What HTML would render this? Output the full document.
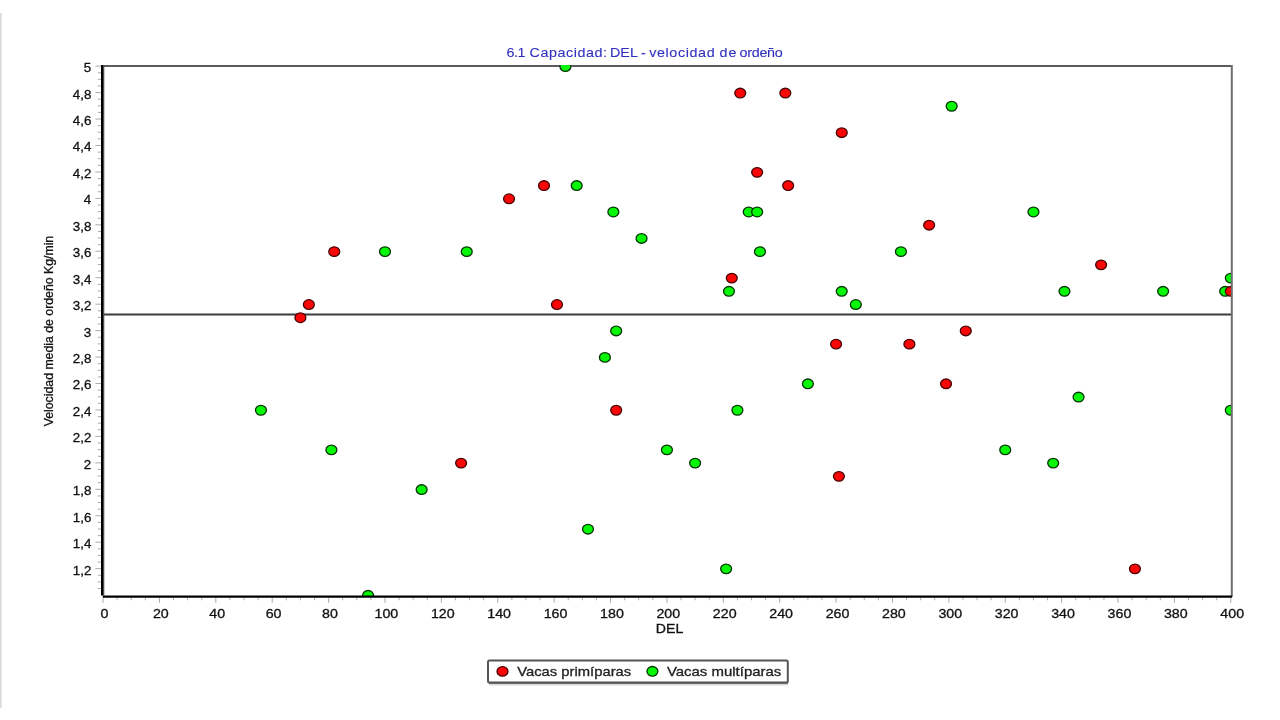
<!DOCTYPE html>
<html><head><meta charset="utf-8"><title>6.1 Capacidad: DEL - velocidad de ordeño</title>
<style>
html,body{margin:0;padding:0;background:#fff;}
body{width:1280px;height:720px;overflow:hidden;}
svg{display:block;}
text{font-family:'Liberation Sans', Arial, sans-serif;stroke-width:0.3px;}
</style></head>
<body>
<svg width="1280" height="720" viewBox="0 0 1280 720">
<rect width="1280" height="720" fill="#fff"/>
<rect x="0" y="13" width="1.6" height="695" fill="#d9d9d9"/>
<text transform="scale(1.12 1)" y="56.9" font-size="12.8" fill="#3030c0" stroke="#3030c0" style="stroke-width:0.1px"><tspan x="452.30" textLength="16.99" lengthAdjust="spacing">6.1</tspan> <tspan x="472.74" textLength="69.32" lengthAdjust="spacing">Capacidad:</tspan> <tspan x="544.57" textLength="25.05" lengthAdjust="spacing">DEL</tspan> <tspan x="572.29">-</tspan> <tspan x="579.60" textLength="58.46" lengthAdjust="spacing">velocidad</tspan> <tspan x="642.41" textLength="15.21" lengthAdjust="spacing">de</tspan> <tspan x="660.27" textLength="38.66" lengthAdjust="spacing">ordeño</tspan></text>
<defs><clipPath id="pc"><rect x="103" y="65" width="1128" height="531"/></clipPath></defs>
<line x1="97.8" y1="588.50" x2="101.5" y2="588.50" stroke="#ababab" stroke-width="1"/>
<line x1="97.8" y1="581.89" x2="101.5" y2="581.89" stroke="#ababab" stroke-width="1"/>
<line x1="97.8" y1="575.27" x2="101.5" y2="575.27" stroke="#ababab" stroke-width="1"/>
<line x1="95.4" y1="568.66" x2="101.5" y2="568.66" stroke="#ababab" stroke-width="1"/>
<line x1="97.8" y1="562.05" x2="101.5" y2="562.05" stroke="#ababab" stroke-width="1"/>
<line x1="97.8" y1="555.44" x2="101.5" y2="555.44" stroke="#ababab" stroke-width="1"/>
<line x1="97.8" y1="548.83" x2="101.5" y2="548.83" stroke="#ababab" stroke-width="1"/>
<line x1="95.4" y1="542.21" x2="101.5" y2="542.21" stroke="#ababab" stroke-width="1"/>
<line x1="97.8" y1="535.60" x2="101.5" y2="535.60" stroke="#ababab" stroke-width="1"/>
<line x1="97.8" y1="528.99" x2="101.5" y2="528.99" stroke="#ababab" stroke-width="1"/>
<line x1="97.8" y1="522.38" x2="101.5" y2="522.38" stroke="#ababab" stroke-width="1"/>
<line x1="95.4" y1="515.77" x2="101.5" y2="515.77" stroke="#ababab" stroke-width="1"/>
<line x1="97.8" y1="509.15" x2="101.5" y2="509.15" stroke="#ababab" stroke-width="1"/>
<line x1="97.8" y1="502.54" x2="101.5" y2="502.54" stroke="#ababab" stroke-width="1"/>
<line x1="97.8" y1="495.93" x2="101.5" y2="495.93" stroke="#ababab" stroke-width="1"/>
<line x1="95.4" y1="489.32" x2="101.5" y2="489.32" stroke="#ababab" stroke-width="1"/>
<line x1="97.8" y1="482.71" x2="101.5" y2="482.71" stroke="#ababab" stroke-width="1"/>
<line x1="97.8" y1="476.09" x2="101.5" y2="476.09" stroke="#ababab" stroke-width="1"/>
<line x1="97.8" y1="469.48" x2="101.5" y2="469.48" stroke="#ababab" stroke-width="1"/>
<line x1="95.4" y1="462.87" x2="101.5" y2="462.87" stroke="#ababab" stroke-width="1"/>
<line x1="97.8" y1="456.26" x2="101.5" y2="456.26" stroke="#ababab" stroke-width="1"/>
<line x1="97.8" y1="449.65" x2="101.5" y2="449.65" stroke="#ababab" stroke-width="1"/>
<line x1="97.8" y1="443.03" x2="101.5" y2="443.03" stroke="#ababab" stroke-width="1"/>
<line x1="95.4" y1="436.42" x2="101.5" y2="436.42" stroke="#ababab" stroke-width="1"/>
<line x1="97.8" y1="429.81" x2="101.5" y2="429.81" stroke="#ababab" stroke-width="1"/>
<line x1="97.8" y1="423.20" x2="101.5" y2="423.20" stroke="#ababab" stroke-width="1"/>
<line x1="97.8" y1="416.59" x2="101.5" y2="416.59" stroke="#ababab" stroke-width="1"/>
<line x1="95.4" y1="409.97" x2="101.5" y2="409.97" stroke="#ababab" stroke-width="1"/>
<line x1="97.8" y1="403.36" x2="101.5" y2="403.36" stroke="#ababab" stroke-width="1"/>
<line x1="97.8" y1="396.75" x2="101.5" y2="396.75" stroke="#ababab" stroke-width="1"/>
<line x1="97.8" y1="390.14" x2="101.5" y2="390.14" stroke="#ababab" stroke-width="1"/>
<line x1="95.4" y1="383.53" x2="101.5" y2="383.53" stroke="#ababab" stroke-width="1"/>
<line x1="97.8" y1="376.91" x2="101.5" y2="376.91" stroke="#ababab" stroke-width="1"/>
<line x1="97.8" y1="370.30" x2="101.5" y2="370.30" stroke="#ababab" stroke-width="1"/>
<line x1="97.8" y1="363.69" x2="101.5" y2="363.69" stroke="#ababab" stroke-width="1"/>
<line x1="95.4" y1="357.08" x2="101.5" y2="357.08" stroke="#ababab" stroke-width="1"/>
<line x1="97.8" y1="350.47" x2="101.5" y2="350.47" stroke="#ababab" stroke-width="1"/>
<line x1="97.8" y1="343.85" x2="101.5" y2="343.85" stroke="#ababab" stroke-width="1"/>
<line x1="97.8" y1="337.24" x2="101.5" y2="337.24" stroke="#ababab" stroke-width="1"/>
<line x1="95.4" y1="330.63" x2="101.5" y2="330.63" stroke="#ababab" stroke-width="1"/>
<line x1="97.8" y1="324.02" x2="101.5" y2="324.02" stroke="#ababab" stroke-width="1"/>
<line x1="97.8" y1="317.41" x2="101.5" y2="317.41" stroke="#ababab" stroke-width="1"/>
<line x1="97.8" y1="310.79" x2="101.5" y2="310.79" stroke="#ababab" stroke-width="1"/>
<line x1="95.4" y1="304.18" x2="101.5" y2="304.18" stroke="#ababab" stroke-width="1"/>
<line x1="97.8" y1="297.57" x2="101.5" y2="297.57" stroke="#ababab" stroke-width="1"/>
<line x1="97.8" y1="290.96" x2="101.5" y2="290.96" stroke="#ababab" stroke-width="1"/>
<line x1="97.8" y1="284.35" x2="101.5" y2="284.35" stroke="#ababab" stroke-width="1"/>
<line x1="95.4" y1="277.73" x2="101.5" y2="277.73" stroke="#ababab" stroke-width="1"/>
<line x1="97.8" y1="271.12" x2="101.5" y2="271.12" stroke="#ababab" stroke-width="1"/>
<line x1="97.8" y1="264.51" x2="101.5" y2="264.51" stroke="#ababab" stroke-width="1"/>
<line x1="97.8" y1="257.90" x2="101.5" y2="257.90" stroke="#ababab" stroke-width="1"/>
<line x1="95.4" y1="251.29" x2="101.5" y2="251.29" stroke="#ababab" stroke-width="1"/>
<line x1="97.8" y1="244.67" x2="101.5" y2="244.67" stroke="#ababab" stroke-width="1"/>
<line x1="97.8" y1="238.06" x2="101.5" y2="238.06" stroke="#ababab" stroke-width="1"/>
<line x1="97.8" y1="231.45" x2="101.5" y2="231.45" stroke="#ababab" stroke-width="1"/>
<line x1="95.4" y1="224.84" x2="101.5" y2="224.84" stroke="#ababab" stroke-width="1"/>
<line x1="97.8" y1="218.23" x2="101.5" y2="218.23" stroke="#ababab" stroke-width="1"/>
<line x1="97.8" y1="211.61" x2="101.5" y2="211.61" stroke="#ababab" stroke-width="1"/>
<line x1="97.8" y1="205.00" x2="101.5" y2="205.00" stroke="#ababab" stroke-width="1"/>
<line x1="95.4" y1="198.39" x2="101.5" y2="198.39" stroke="#ababab" stroke-width="1"/>
<line x1="97.8" y1="191.78" x2="101.5" y2="191.78" stroke="#ababab" stroke-width="1"/>
<line x1="97.8" y1="185.17" x2="101.5" y2="185.17" stroke="#ababab" stroke-width="1"/>
<line x1="97.8" y1="178.55" x2="101.5" y2="178.55" stroke="#ababab" stroke-width="1"/>
<line x1="95.4" y1="171.94" x2="101.5" y2="171.94" stroke="#ababab" stroke-width="1"/>
<line x1="97.8" y1="165.33" x2="101.5" y2="165.33" stroke="#ababab" stroke-width="1"/>
<line x1="97.8" y1="158.72" x2="101.5" y2="158.72" stroke="#ababab" stroke-width="1"/>
<line x1="97.8" y1="152.11" x2="101.5" y2="152.11" stroke="#ababab" stroke-width="1"/>
<line x1="95.4" y1="145.49" x2="101.5" y2="145.49" stroke="#ababab" stroke-width="1"/>
<line x1="97.8" y1="138.88" x2="101.5" y2="138.88" stroke="#ababab" stroke-width="1"/>
<line x1="97.8" y1="132.27" x2="101.5" y2="132.27" stroke="#ababab" stroke-width="1"/>
<line x1="97.8" y1="125.66" x2="101.5" y2="125.66" stroke="#ababab" stroke-width="1"/>
<line x1="95.4" y1="119.05" x2="101.5" y2="119.05" stroke="#ababab" stroke-width="1"/>
<line x1="97.8" y1="112.43" x2="101.5" y2="112.43" stroke="#ababab" stroke-width="1"/>
<line x1="97.8" y1="105.82" x2="101.5" y2="105.82" stroke="#ababab" stroke-width="1"/>
<line x1="97.8" y1="99.21" x2="101.5" y2="99.21" stroke="#ababab" stroke-width="1"/>
<line x1="95.4" y1="92.60" x2="101.5" y2="92.60" stroke="#ababab" stroke-width="1"/>
<line x1="97.8" y1="85.99" x2="101.5" y2="85.99" stroke="#ababab" stroke-width="1"/>
<line x1="97.8" y1="79.37" x2="101.5" y2="79.37" stroke="#ababab" stroke-width="1"/>
<line x1="97.8" y1="72.76" x2="101.5" y2="72.76" stroke="#ababab" stroke-width="1"/>
<line x1="95.4" y1="66.15" x2="101.5" y2="66.15" stroke="#ababab" stroke-width="1"/>
<line x1="103.05" y1="597.5" x2="103.05" y2="602.8" stroke="#ababab" stroke-width="1"/>
<line x1="117.15" y1="597.5" x2="117.15" y2="600.3" stroke="#ababab" stroke-width="1"/>
<line x1="131.24" y1="597.5" x2="131.24" y2="600.3" stroke="#ababab" stroke-width="1"/>
<line x1="145.34" y1="597.5" x2="145.34" y2="600.3" stroke="#ababab" stroke-width="1"/>
<line x1="159.44" y1="597.5" x2="159.44" y2="602.8" stroke="#ababab" stroke-width="1"/>
<line x1="173.53" y1="597.5" x2="173.53" y2="600.3" stroke="#ababab" stroke-width="1"/>
<line x1="187.63" y1="597.5" x2="187.63" y2="600.3" stroke="#ababab" stroke-width="1"/>
<line x1="201.73" y1="597.5" x2="201.73" y2="600.3" stroke="#ababab" stroke-width="1"/>
<line x1="215.82" y1="597.5" x2="215.82" y2="602.8" stroke="#ababab" stroke-width="1"/>
<line x1="229.92" y1="597.5" x2="229.92" y2="600.3" stroke="#ababab" stroke-width="1"/>
<line x1="244.02" y1="597.5" x2="244.02" y2="600.3" stroke="#ababab" stroke-width="1"/>
<line x1="258.12" y1="597.5" x2="258.12" y2="600.3" stroke="#ababab" stroke-width="1"/>
<line x1="272.21" y1="597.5" x2="272.21" y2="602.8" stroke="#ababab" stroke-width="1"/>
<line x1="286.31" y1="597.5" x2="286.31" y2="600.3" stroke="#ababab" stroke-width="1"/>
<line x1="300.41" y1="597.5" x2="300.41" y2="600.3" stroke="#ababab" stroke-width="1"/>
<line x1="314.50" y1="597.5" x2="314.50" y2="600.3" stroke="#ababab" stroke-width="1"/>
<line x1="328.60" y1="597.5" x2="328.60" y2="602.8" stroke="#ababab" stroke-width="1"/>
<line x1="342.70" y1="597.5" x2="342.70" y2="600.3" stroke="#ababab" stroke-width="1"/>
<line x1="356.79" y1="597.5" x2="356.79" y2="600.3" stroke="#ababab" stroke-width="1"/>
<line x1="370.89" y1="597.5" x2="370.89" y2="600.3" stroke="#ababab" stroke-width="1"/>
<line x1="384.99" y1="597.5" x2="384.99" y2="602.8" stroke="#ababab" stroke-width="1"/>
<line x1="399.08" y1="597.5" x2="399.08" y2="600.3" stroke="#ababab" stroke-width="1"/>
<line x1="413.18" y1="597.5" x2="413.18" y2="600.3" stroke="#ababab" stroke-width="1"/>
<line x1="427.28" y1="597.5" x2="427.28" y2="600.3" stroke="#ababab" stroke-width="1"/>
<line x1="441.38" y1="597.5" x2="441.38" y2="602.8" stroke="#ababab" stroke-width="1"/>
<line x1="455.47" y1="597.5" x2="455.47" y2="600.3" stroke="#ababab" stroke-width="1"/>
<line x1="469.57" y1="597.5" x2="469.57" y2="600.3" stroke="#ababab" stroke-width="1"/>
<line x1="483.67" y1="597.5" x2="483.67" y2="600.3" stroke="#ababab" stroke-width="1"/>
<line x1="497.76" y1="597.5" x2="497.76" y2="602.8" stroke="#ababab" stroke-width="1"/>
<line x1="511.86" y1="597.5" x2="511.86" y2="600.3" stroke="#ababab" stroke-width="1"/>
<line x1="525.96" y1="597.5" x2="525.96" y2="600.3" stroke="#ababab" stroke-width="1"/>
<line x1="540.05" y1="597.5" x2="540.05" y2="600.3" stroke="#ababab" stroke-width="1"/>
<line x1="554.15" y1="597.5" x2="554.15" y2="602.8" stroke="#ababab" stroke-width="1"/>
<line x1="568.25" y1="597.5" x2="568.25" y2="600.3" stroke="#ababab" stroke-width="1"/>
<line x1="582.34" y1="597.5" x2="582.34" y2="600.3" stroke="#ababab" stroke-width="1"/>
<line x1="596.44" y1="597.5" x2="596.44" y2="600.3" stroke="#ababab" stroke-width="1"/>
<line x1="610.54" y1="597.5" x2="610.54" y2="602.8" stroke="#ababab" stroke-width="1"/>
<line x1="624.63" y1="597.5" x2="624.63" y2="600.3" stroke="#ababab" stroke-width="1"/>
<line x1="638.73" y1="597.5" x2="638.73" y2="600.3" stroke="#ababab" stroke-width="1"/>
<line x1="652.83" y1="597.5" x2="652.83" y2="600.3" stroke="#ababab" stroke-width="1"/>
<line x1="666.92" y1="597.5" x2="666.92" y2="602.8" stroke="#ababab" stroke-width="1"/>
<line x1="681.02" y1="597.5" x2="681.02" y2="600.3" stroke="#ababab" stroke-width="1"/>
<line x1="695.12" y1="597.5" x2="695.12" y2="600.3" stroke="#ababab" stroke-width="1"/>
<line x1="709.22" y1="597.5" x2="709.22" y2="600.3" stroke="#ababab" stroke-width="1"/>
<line x1="723.31" y1="597.5" x2="723.31" y2="602.8" stroke="#ababab" stroke-width="1"/>
<line x1="737.41" y1="597.5" x2="737.41" y2="600.3" stroke="#ababab" stroke-width="1"/>
<line x1="751.51" y1="597.5" x2="751.51" y2="600.3" stroke="#ababab" stroke-width="1"/>
<line x1="765.60" y1="597.5" x2="765.60" y2="600.3" stroke="#ababab" stroke-width="1"/>
<line x1="779.70" y1="597.5" x2="779.70" y2="602.8" stroke="#ababab" stroke-width="1"/>
<line x1="793.80" y1="597.5" x2="793.80" y2="600.3" stroke="#ababab" stroke-width="1"/>
<line x1="807.89" y1="597.5" x2="807.89" y2="600.3" stroke="#ababab" stroke-width="1"/>
<line x1="821.99" y1="597.5" x2="821.99" y2="600.3" stroke="#ababab" stroke-width="1"/>
<line x1="836.09" y1="597.5" x2="836.09" y2="602.8" stroke="#ababab" stroke-width="1"/>
<line x1="850.18" y1="597.5" x2="850.18" y2="600.3" stroke="#ababab" stroke-width="1"/>
<line x1="864.28" y1="597.5" x2="864.28" y2="600.3" stroke="#ababab" stroke-width="1"/>
<line x1="878.38" y1="597.5" x2="878.38" y2="600.3" stroke="#ababab" stroke-width="1"/>
<line x1="892.47" y1="597.5" x2="892.47" y2="602.8" stroke="#ababab" stroke-width="1"/>
<line x1="906.57" y1="597.5" x2="906.57" y2="600.3" stroke="#ababab" stroke-width="1"/>
<line x1="920.67" y1="597.5" x2="920.67" y2="600.3" stroke="#ababab" stroke-width="1"/>
<line x1="934.77" y1="597.5" x2="934.77" y2="600.3" stroke="#ababab" stroke-width="1"/>
<line x1="948.86" y1="597.5" x2="948.86" y2="602.8" stroke="#ababab" stroke-width="1"/>
<line x1="962.96" y1="597.5" x2="962.96" y2="600.3" stroke="#ababab" stroke-width="1"/>
<line x1="977.06" y1="597.5" x2="977.06" y2="600.3" stroke="#ababab" stroke-width="1"/>
<line x1="991.15" y1="597.5" x2="991.15" y2="600.3" stroke="#ababab" stroke-width="1"/>
<line x1="1005.25" y1="597.5" x2="1005.25" y2="602.8" stroke="#ababab" stroke-width="1"/>
<line x1="1019.35" y1="597.5" x2="1019.35" y2="600.3" stroke="#ababab" stroke-width="1"/>
<line x1="1033.44" y1="597.5" x2="1033.44" y2="600.3" stroke="#ababab" stroke-width="1"/>
<line x1="1047.54" y1="597.5" x2="1047.54" y2="600.3" stroke="#ababab" stroke-width="1"/>
<line x1="1061.64" y1="597.5" x2="1061.64" y2="602.8" stroke="#ababab" stroke-width="1"/>
<line x1="1075.73" y1="597.5" x2="1075.73" y2="600.3" stroke="#ababab" stroke-width="1"/>
<line x1="1089.83" y1="597.5" x2="1089.83" y2="600.3" stroke="#ababab" stroke-width="1"/>
<line x1="1103.93" y1="597.5" x2="1103.93" y2="600.3" stroke="#ababab" stroke-width="1"/>
<line x1="1118.03" y1="597.5" x2="1118.03" y2="602.8" stroke="#ababab" stroke-width="1"/>
<line x1="1132.12" y1="597.5" x2="1132.12" y2="600.3" stroke="#ababab" stroke-width="1"/>
<line x1="1146.22" y1="597.5" x2="1146.22" y2="600.3" stroke="#ababab" stroke-width="1"/>
<line x1="1160.32" y1="597.5" x2="1160.32" y2="600.3" stroke="#ababab" stroke-width="1"/>
<line x1="1174.41" y1="597.5" x2="1174.41" y2="602.8" stroke="#ababab" stroke-width="1"/>
<line x1="1188.51" y1="597.5" x2="1188.51" y2="600.3" stroke="#ababab" stroke-width="1"/>
<line x1="1202.61" y1="597.5" x2="1202.61" y2="600.3" stroke="#ababab" stroke-width="1"/>
<line x1="1216.70" y1="597.5" x2="1216.70" y2="600.3" stroke="#ababab" stroke-width="1"/>
<line x1="1230.80" y1="597.5" x2="1230.80" y2="602.8" stroke="#ababab" stroke-width="1"/>
<text transform="translate(91.3 574.56) scale(1.06 1)" font-size="12.6" text-anchor="end" fill="#111" stroke="#111">1,2</text>
<text transform="translate(91.3 548.11) scale(1.06 1)" font-size="12.6" text-anchor="end" fill="#111" stroke="#111">1,4</text>
<text transform="translate(91.3 521.67) scale(1.06 1)" font-size="12.6" text-anchor="end" fill="#111" stroke="#111">1,6</text>
<text transform="translate(91.3 495.22) scale(1.06 1)" font-size="12.6" text-anchor="end" fill="#111" stroke="#111">1,8</text>
<text transform="translate(91.3 468.77) scale(1.06 1)" font-size="12.6" text-anchor="end" fill="#111" stroke="#111">2</text>
<text transform="translate(91.3 442.32) scale(1.06 1)" font-size="12.6" text-anchor="end" fill="#111" stroke="#111">2,2</text>
<text transform="translate(91.3 415.87) scale(1.06 1)" font-size="12.6" text-anchor="end" fill="#111" stroke="#111">2,4</text>
<text transform="translate(91.3 389.43) scale(1.06 1)" font-size="12.6" text-anchor="end" fill="#111" stroke="#111">2,6</text>
<text transform="translate(91.3 362.98) scale(1.06 1)" font-size="12.6" text-anchor="end" fill="#111" stroke="#111">2,8</text>
<text transform="translate(91.3 336.53) scale(1.06 1)" font-size="12.6" text-anchor="end" fill="#111" stroke="#111">3</text>
<text transform="translate(91.3 310.08) scale(1.06 1)" font-size="12.6" text-anchor="end" fill="#111" stroke="#111">3,2</text>
<text transform="translate(91.3 283.63) scale(1.06 1)" font-size="12.6" text-anchor="end" fill="#111" stroke="#111">3,4</text>
<text transform="translate(91.3 257.19) scale(1.06 1)" font-size="12.6" text-anchor="end" fill="#111" stroke="#111">3,6</text>
<text transform="translate(91.3 230.74) scale(1.06 1)" font-size="12.6" text-anchor="end" fill="#111" stroke="#111">3,8</text>
<text transform="translate(91.3 204.29) scale(1.06 1)" font-size="12.6" text-anchor="end" fill="#111" stroke="#111">4</text>
<text transform="translate(91.3 177.84) scale(1.06 1)" font-size="12.6" text-anchor="end" fill="#111" stroke="#111">4,2</text>
<text transform="translate(91.3 151.39) scale(1.06 1)" font-size="12.6" text-anchor="end" fill="#111" stroke="#111">4,4</text>
<text transform="translate(91.3 124.95) scale(1.06 1)" font-size="12.6" text-anchor="end" fill="#111" stroke="#111">4,6</text>
<text transform="translate(91.3 98.50) scale(1.06 1)" font-size="12.6" text-anchor="end" fill="#111" stroke="#111">4,8</text>
<text transform="translate(91.3 72.05) scale(1.06 1)" font-size="12.6" text-anchor="end" fill="#111" stroke="#111">5</text>
<text transform="translate(104.45 617.6) scale(1.13 1)" font-size="12.6" text-anchor="middle" fill="#111" stroke="#111">0</text>
<text transform="translate(160.84 617.6) scale(1.13 1)" font-size="12.6" text-anchor="middle" fill="#111" stroke="#111">20</text>
<text transform="translate(217.22 617.6) scale(1.13 1)" font-size="12.6" text-anchor="middle" fill="#111" stroke="#111">40</text>
<text transform="translate(273.61 617.6) scale(1.13 1)" font-size="12.6" text-anchor="middle" fill="#111" stroke="#111">60</text>
<text transform="translate(330.00 617.6) scale(1.13 1)" font-size="12.6" text-anchor="middle" fill="#111" stroke="#111">80</text>
<text transform="translate(386.39 617.6) scale(1.13 1)" font-size="12.6" text-anchor="middle" fill="#111" stroke="#111">100</text>
<text transform="translate(442.77 617.6) scale(1.13 1)" font-size="12.6" text-anchor="middle" fill="#111" stroke="#111">120</text>
<text transform="translate(499.16 617.6) scale(1.13 1)" font-size="12.6" text-anchor="middle" fill="#111" stroke="#111">140</text>
<text transform="translate(555.55 617.6) scale(1.13 1)" font-size="12.6" text-anchor="middle" fill="#111" stroke="#111">160</text>
<text transform="translate(611.94 617.6) scale(1.13 1)" font-size="12.6" text-anchor="middle" fill="#111" stroke="#111">180</text>
<text transform="translate(668.32 617.6) scale(1.13 1)" font-size="12.6" text-anchor="middle" fill="#111" stroke="#111">200</text>
<text transform="translate(724.71 617.6) scale(1.13 1)" font-size="12.6" text-anchor="middle" fill="#111" stroke="#111">220</text>
<text transform="translate(781.10 617.6) scale(1.13 1)" font-size="12.6" text-anchor="middle" fill="#111" stroke="#111">240</text>
<text transform="translate(837.49 617.6) scale(1.13 1)" font-size="12.6" text-anchor="middle" fill="#111" stroke="#111">260</text>
<text transform="translate(893.87 617.6) scale(1.13 1)" font-size="12.6" text-anchor="middle" fill="#111" stroke="#111">280</text>
<text transform="translate(950.26 617.6) scale(1.13 1)" font-size="12.6" text-anchor="middle" fill="#111" stroke="#111">300</text>
<text transform="translate(1006.65 617.6) scale(1.13 1)" font-size="12.6" text-anchor="middle" fill="#111" stroke="#111">320</text>
<text transform="translate(1063.04 617.6) scale(1.13 1)" font-size="12.6" text-anchor="middle" fill="#111" stroke="#111">340</text>
<text transform="translate(1119.43 617.6) scale(1.13 1)" font-size="12.6" text-anchor="middle" fill="#111" stroke="#111">360</text>
<text transform="translate(1175.81 617.6) scale(1.13 1)" font-size="12.6" text-anchor="middle" fill="#111" stroke="#111">380</text>
<text transform="translate(1232.20 617.6) scale(1.13 1)" font-size="12.6" text-anchor="middle" fill="#111" stroke="#111">400</text>
<text transform="translate(655.8 633.0) scale(1.12 1)" font-size="12.6" fill="#111" stroke="#111">DEL</text>
<text transform="translate(53 426.3) rotate(-90)" x="0" y="0" font-size="12.6" fill="#111" stroke="#111" textLength="190.5" lengthAdjust="spacingAndGlyphs">Velocidad media de ordeño Kg/min</text>
<line x1="103" y1="314.5" x2="1231" y2="314.5" stroke="#3c3c3c" stroke-width="2"/>
<line x1="102" y1="66" x2="1232" y2="66" stroke="#5c5c5c" stroke-width="2"/>
<g clip-path="url(#pc)">
<ellipse cx="260.94" cy="410.25" rx="5.45" ry="4.8" fill="#06f806" stroke="#003400" stroke-width="1.3"/>
<ellipse cx="300.41" cy="317.73" rx="5.45" ry="4.8" fill="#fa0606" stroke="#480000" stroke-width="1.3"/>
<ellipse cx="308.86" cy="304.51" rx="5.45" ry="4.8" fill="#fa0606" stroke="#480000" stroke-width="1.3"/>
<ellipse cx="331.42" cy="449.91" rx="5.45" ry="4.8" fill="#06f806" stroke="#003400" stroke-width="1.3"/>
<ellipse cx="334.24" cy="251.64" rx="5.45" ry="4.8" fill="#fa0606" stroke="#480000" stroke-width="1.3"/>
<ellipse cx="368.07" cy="595.30" rx="5.45" ry="4.8" fill="#06f806" stroke="#003400" stroke-width="1.3"/>
<ellipse cx="384.99" cy="251.64" rx="5.45" ry="4.8" fill="#06f806" stroke="#003400" stroke-width="1.3"/>
<ellipse cx="421.64" cy="489.56" rx="5.45" ry="4.8" fill="#06f806" stroke="#003400" stroke-width="1.3"/>
<ellipse cx="461.11" cy="463.12" rx="5.45" ry="4.8" fill="#fa0606" stroke="#480000" stroke-width="1.3"/>
<ellipse cx="466.75" cy="251.64" rx="5.45" ry="4.8" fill="#06f806" stroke="#003400" stroke-width="1.3"/>
<ellipse cx="509.04" cy="198.77" rx="5.45" ry="4.8" fill="#fa0606" stroke="#480000" stroke-width="1.3"/>
<ellipse cx="544.00" cy="185.56" rx="5.45" ry="4.8" fill="#fa0606" stroke="#480000" stroke-width="1.3"/>
<ellipse cx="556.97" cy="304.51" rx="5.45" ry="4.8" fill="#fa0606" stroke="#480000" stroke-width="1.3"/>
<ellipse cx="565.43" cy="66.60" rx="5.45" ry="4.8" fill="#06f806" stroke="#003400" stroke-width="1.3"/>
<ellipse cx="576.70" cy="185.56" rx="5.45" ry="4.8" fill="#06f806" stroke="#003400" stroke-width="1.3"/>
<ellipse cx="587.98" cy="529.21" rx="5.45" ry="4.8" fill="#06f806" stroke="#003400" stroke-width="1.3"/>
<ellipse cx="604.90" cy="357.38" rx="5.45" ry="4.8" fill="#06f806" stroke="#003400" stroke-width="1.3"/>
<ellipse cx="613.36" cy="211.99" rx="5.45" ry="4.8" fill="#06f806" stroke="#003400" stroke-width="1.3"/>
<ellipse cx="616.18" cy="330.95" rx="5.45" ry="4.8" fill="#06f806" stroke="#003400" stroke-width="1.3"/>
<ellipse cx="616.18" cy="410.25" rx="5.45" ry="4.8" fill="#fa0606" stroke="#480000" stroke-width="1.3"/>
<ellipse cx="641.55" cy="238.43" rx="5.45" ry="4.8" fill="#06f806" stroke="#003400" stroke-width="1.3"/>
<ellipse cx="666.92" cy="449.91" rx="5.45" ry="4.8" fill="#06f806" stroke="#003400" stroke-width="1.3"/>
<ellipse cx="695.12" cy="463.12" rx="5.45" ry="4.8" fill="#06f806" stroke="#003400" stroke-width="1.3"/>
<ellipse cx="726.13" cy="568.86" rx="5.45" ry="4.8" fill="#06f806" stroke="#003400" stroke-width="1.3"/>
<ellipse cx="728.95" cy="291.30" rx="5.45" ry="4.8" fill="#06f806" stroke="#003400" stroke-width="1.3"/>
<ellipse cx="731.77" cy="278.08" rx="5.45" ry="4.8" fill="#fa0606" stroke="#480000" stroke-width="1.3"/>
<ellipse cx="737.41" cy="410.25" rx="5.45" ry="4.8" fill="#06f806" stroke="#003400" stroke-width="1.3"/>
<ellipse cx="740.23" cy="93.04" rx="5.45" ry="4.8" fill="#fa0606" stroke="#480000" stroke-width="1.3"/>
<ellipse cx="748.69" cy="211.99" rx="5.45" ry="4.8" fill="#06f806" stroke="#003400" stroke-width="1.3"/>
<ellipse cx="757.14" cy="211.99" rx="5.45" ry="4.8" fill="#06f806" stroke="#003400" stroke-width="1.3"/>
<ellipse cx="757.14" cy="172.34" rx="5.45" ry="4.8" fill="#fa0606" stroke="#480000" stroke-width="1.3"/>
<ellipse cx="759.96" cy="251.64" rx="5.45" ry="4.8" fill="#06f806" stroke="#003400" stroke-width="1.3"/>
<ellipse cx="785.34" cy="93.04" rx="5.45" ry="4.8" fill="#fa0606" stroke="#480000" stroke-width="1.3"/>
<ellipse cx="788.16" cy="185.56" rx="5.45" ry="4.8" fill="#fa0606" stroke="#480000" stroke-width="1.3"/>
<ellipse cx="807.89" cy="383.82" rx="5.45" ry="4.8" fill="#06f806" stroke="#003400" stroke-width="1.3"/>
<ellipse cx="836.09" cy="344.17" rx="5.45" ry="4.8" fill="#fa0606" stroke="#480000" stroke-width="1.3"/>
<ellipse cx="838.91" cy="476.34" rx="5.45" ry="4.8" fill="#fa0606" stroke="#480000" stroke-width="1.3"/>
<ellipse cx="841.73" cy="291.30" rx="5.45" ry="4.8" fill="#06f806" stroke="#003400" stroke-width="1.3"/>
<ellipse cx="841.73" cy="132.69" rx="5.45" ry="4.8" fill="#fa0606" stroke="#480000" stroke-width="1.3"/>
<ellipse cx="855.82" cy="304.51" rx="5.45" ry="4.8" fill="#06f806" stroke="#003400" stroke-width="1.3"/>
<ellipse cx="900.93" cy="251.64" rx="5.45" ry="4.8" fill="#06f806" stroke="#003400" stroke-width="1.3"/>
<ellipse cx="909.39" cy="344.17" rx="5.45" ry="4.8" fill="#fa0606" stroke="#480000" stroke-width="1.3"/>
<ellipse cx="929.13" cy="225.21" rx="5.45" ry="4.8" fill="#fa0606" stroke="#480000" stroke-width="1.3"/>
<ellipse cx="946.04" cy="383.82" rx="5.45" ry="4.8" fill="#fa0606" stroke="#480000" stroke-width="1.3"/>
<ellipse cx="951.68" cy="106.25" rx="5.45" ry="4.8" fill="#06f806" stroke="#003400" stroke-width="1.3"/>
<ellipse cx="965.78" cy="330.95" rx="5.45" ry="4.8" fill="#fa0606" stroke="#480000" stroke-width="1.3"/>
<ellipse cx="1005.25" cy="449.91" rx="5.45" ry="4.8" fill="#06f806" stroke="#003400" stroke-width="1.3"/>
<ellipse cx="1033.44" cy="211.99" rx="5.45" ry="4.8" fill="#06f806" stroke="#003400" stroke-width="1.3"/>
<ellipse cx="1053.18" cy="463.12" rx="5.45" ry="4.8" fill="#06f806" stroke="#003400" stroke-width="1.3"/>
<ellipse cx="1064.46" cy="291.30" rx="5.45" ry="4.8" fill="#06f806" stroke="#003400" stroke-width="1.3"/>
<ellipse cx="1078.55" cy="397.04" rx="5.45" ry="4.8" fill="#06f806" stroke="#003400" stroke-width="1.3"/>
<ellipse cx="1101.11" cy="264.86" rx="5.45" ry="4.8" fill="#fa0606" stroke="#480000" stroke-width="1.3"/>
<ellipse cx="1134.94" cy="568.86" rx="5.45" ry="4.8" fill="#fa0606" stroke="#480000" stroke-width="1.3"/>
<ellipse cx="1163.13" cy="291.30" rx="5.45" ry="4.8" fill="#06f806" stroke="#003400" stroke-width="1.3"/>
<ellipse cx="1225.16" cy="291.30" rx="5.45" ry="4.8" fill="#06f806" stroke="#003400" stroke-width="1.3"/>
<ellipse cx="1230.80" cy="278.08" rx="5.45" ry="4.8" fill="#06f806" stroke="#003400" stroke-width="1.3"/>
<ellipse cx="1230.80" cy="410.25" rx="5.45" ry="4.8" fill="#06f806" stroke="#003400" stroke-width="1.3"/>
<ellipse cx="1230.80" cy="291.30" rx="5.45" ry="4.8" fill="#fa0606" stroke="#480000" stroke-width="1.3"/>
</g>
<line x1="1231.8" y1="65" x2="1231.8" y2="597" stroke="#6e6e6e" stroke-width="2"/>
<line x1="103.6" y1="65" x2="103.6" y2="595.6" stroke="#555" stroke-width="1.4"/>
<line x1="102.05" y1="65" x2="102.05" y2="595.6" stroke="#000" stroke-width="2.1"/>
<line x1="102.8" y1="596.6" x2="1232" y2="596.6" stroke="#000" stroke-width="2.4"/>
<rect x="488" y="660.6" width="299.8" height="21.9" rx="1.5" fill="#fff" stroke="#555" stroke-width="2"/>
<line x1="489" y1="683.6" x2="788" y2="683.6" stroke="#6a6a6a" stroke-width="1.1"/>
<line x1="490" y1="684.9" x2="788" y2="684.9" stroke="#d8d8d8" stroke-width="1.2"/>
<ellipse cx="502.5" cy="671.4" rx="5.45" ry="4.8" fill="#fa0606" stroke="#480000" stroke-width="1.3"/>
<ellipse cx="652.4" cy="671.3" rx="5.45" ry="4.8" fill="#06f806" stroke="#003400" stroke-width="1.3"/>
<text x="517.2" y="675.7" font-size="13" fill="#222" stroke="#222" textLength="114" lengthAdjust="spacingAndGlyphs">Vacas primíparas</text>
<text x="666.9" y="675.7" font-size="13" fill="#222" stroke="#222" textLength="114.4" lengthAdjust="spacingAndGlyphs">Vacas multíparas</text>
</svg>
</body></html>
